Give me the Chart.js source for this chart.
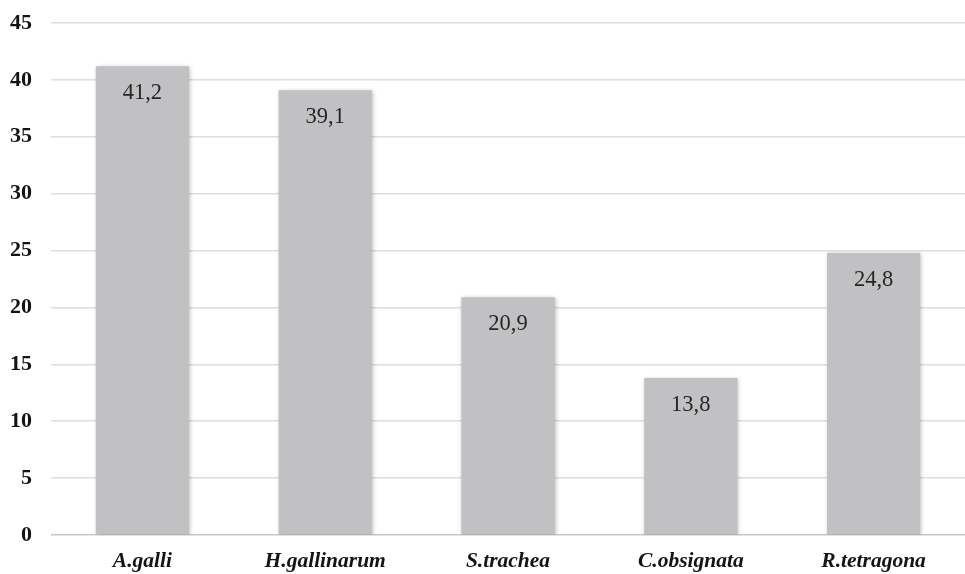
<!DOCTYPE html>
<html>
<head>
<meta charset="utf-8">
<script src="https://cdn.jsdelivr.net/npm/chart.js@4"></script>
<style>
  html, body { margin: 0; padding: 0; background: #fff; }
  #wrap { width: 965px; height: 574px; }
</style>
</head>
<body>
<div id="wrap"><canvas id="c"></canvas></div>
<script>
const categories = ["A.galli", "H.gallinarum", "S.trachea", "C.obsignata", "R.tetragona"];
const prevalence = [41.2, 39.1, 20.9, 13.8, 24.8];
const yTicks = [0, 5, 10, 15, 20, 25, 30, 35, 40, 45];

const SERIF = "'Liberation Serif', 'Times New Roman', serif";

// soft shadow behind the bars
const barShadow = {
  id: 'barShadow',
  beforeDatasetDraw(chart) {
    const ctx = chart.ctx;
    ctx.save();
    ctx.shadowColor = 'rgba(0,0,0,0.25)';
    ctx.shadowBlur = 4;
    ctx.shadowOffsetX = 1;
    ctx.shadowOffsetY = 1;
  },
  afterDatasetDraw(chart) {
    chart.ctx.restore();
  }
};

// value labels inside the top of each bar, decimal comma
const valueLabels = {
  id: 'valueLabels',
  afterDatasetsDraw(chart) {
    const ctx = chart.ctx;
    const meta = chart.getDatasetMeta(0);
    ctx.save();
    ctx.font = "22.5px " + SERIF;
    ctx.fillStyle = '#262626';
    ctx.textAlign = 'center';
    ctx.textBaseline = 'middle';
    meta.data.forEach((bar, i) => {
      const v = chart.data.datasets[0].data[i];
      ctx.fillText(v.toFixed(1).replace('.', ','), bar.x, bar.y + 27);
    });
    ctx.restore();
  }
};

new Chart(document.getElementById('c'), {
  type: 'bar',
  data: {
    labels: categories,
    datasets: [{
      data: prevalence,
      backgroundColor: '#c1c1c3',
      borderWidth: 0,
      barPercentage: 0.51,
      categoryPercentage: 1.0
    }]
  },
  options: {
    responsive: true,
    maintainAspectRatio: false,
    animation: false,
    layout: { padding: { top: 23, right: 0, left: 0, bottom: 0 } },
    plugins: {
      legend: { display: false },
      tooltip: { enabled: false }
    },
    scales: {
      x: {
        grid: { display: false, drawTicks: false },
        border: { display: false },
        ticks: {
          color: '#141414',
          padding: 14,
          font: { family: SERIF, size: 21.5, weight: 'bold', style: 'italic' }
        },
        afterFit(scale) {
          scale.height = 39;
          scale.paddingLeft = 0;
          scale.paddingRight = 0;
        }
      },
      y: {
        min: 0,
        max: 45,
        afterBuildTicks(scale) { scale.ticks = yTicks.map(v => ({ value: v })); },
        grid: {
          drawTicks: false,
          lineWidth: 1.5,
          color: ctx => ctx.tick && ctx.tick.value === 0 ? '#c8c8c8' : '#dedede'
        },
        border: { display: false },
        ticks: {
          color: '#141414',
          padding: 19,
          font: { family: SERIF, size: 22, weight: 'bold' }
        },
        afterFit(scale) {
          scale.width = 51;
          scale.paddingTop = 0;
          scale.paddingBottom = 0;
        }
      }
    }
  },
  plugins: [barShadow, valueLabels]
});
</script>
</body>
</html>
